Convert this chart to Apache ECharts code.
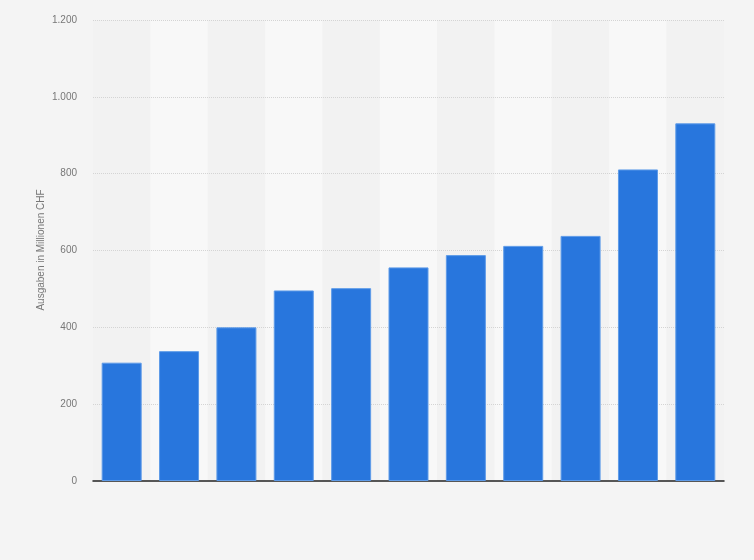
<!DOCTYPE html>
<html>
<head>
<meta charset="utf-8">
<script src="https://cdn.jsdelivr.net/npm/echarts@6/dist/echarts.min.js"></script>
<style>
    html, body{
        margin:0;
        padding:0;
        background:#f4f4f4;
    }
    #chart{
        width:754px;
        height:560px;
    }
</style>
</head>
<body>
<div id="chart"></div>
<script>
// no category labels are shown in the picture, so these stay hidden
const categories = ['1', '2', '3', '4', '5', '6', '7', '8', '9', '10', '11']
const values = [308, 338, 400, 496, 502, 556, 588, 612, 638, 811, 931]
const yTicks = [0, 200, 400, 600, 800, 1000, 1200]
const yTitle = 'Ausgaben in Millionen CHF'

const chart = echarts.init(document.getElementById('chart'))

const option = {
    backgroundColor: '#f4f4f4',
    animation: false,
    grid: {
        left: 93,
        right: 30,
        top: 20,
        bottom: 79
    },
    // axis title placed by hand, the built-in name gets pushed away from the labels
    graphic: [
        {
            type: 'text',
            x: 41,
            y: 250,
            rotation: Math.PI / 2,
            style: {
                text: yTitle,
                fill: '#777',
                fontSize: 10,
                fontFamily: 'Liberation Sans, Arial, sans-serif',
                align: 'center',
                verticalAlign: 'middle'
            }
        }
    ],
    xAxis: {
        type: 'category',
        data: categories,
        z: 1,
        axisLine: {
            show: true,
            lineStyle: { color: '#222', width: 1.5 }
        },
        axisTick: { show: false },
        axisLabel: { show: false },
        splitArea: {
            show: true,
            areaStyle: { color: ['#f2f2f2', '#f8f8f8'] }
        }
    },
    yAxis: {
        type: 'value',
        z: 2,
        min: yTicks[0],
        max: yTicks[yTicks.length - 1],
        interval: 200,
        axisLine: { show: false },
        axisTick: { show: false },
        axisLabel: {
            color: '#777',
            fontSize: 10,
            margin: 16,
            fontFamily: 'Liberation Sans, Arial, sans-serif',
            formatter: (v) => v.toLocaleString('de-DE')
        },
        splitLine: {
            showMinLine: false,
            lineStyle: { color: '#d4d4d4', type: [1, 1], width: 1 }
        }
    },
    series: [
        {
            type: 'bar',
            data: values,
            barWidth: 40,
            z: 3,
            itemStyle: {
                color: '#2876dd',
                borderColor: '#5e9be8',
                borderWidth: 1
            }
        }
    ]
}

chart.setOption(option)
</script>
</body>
</html>
